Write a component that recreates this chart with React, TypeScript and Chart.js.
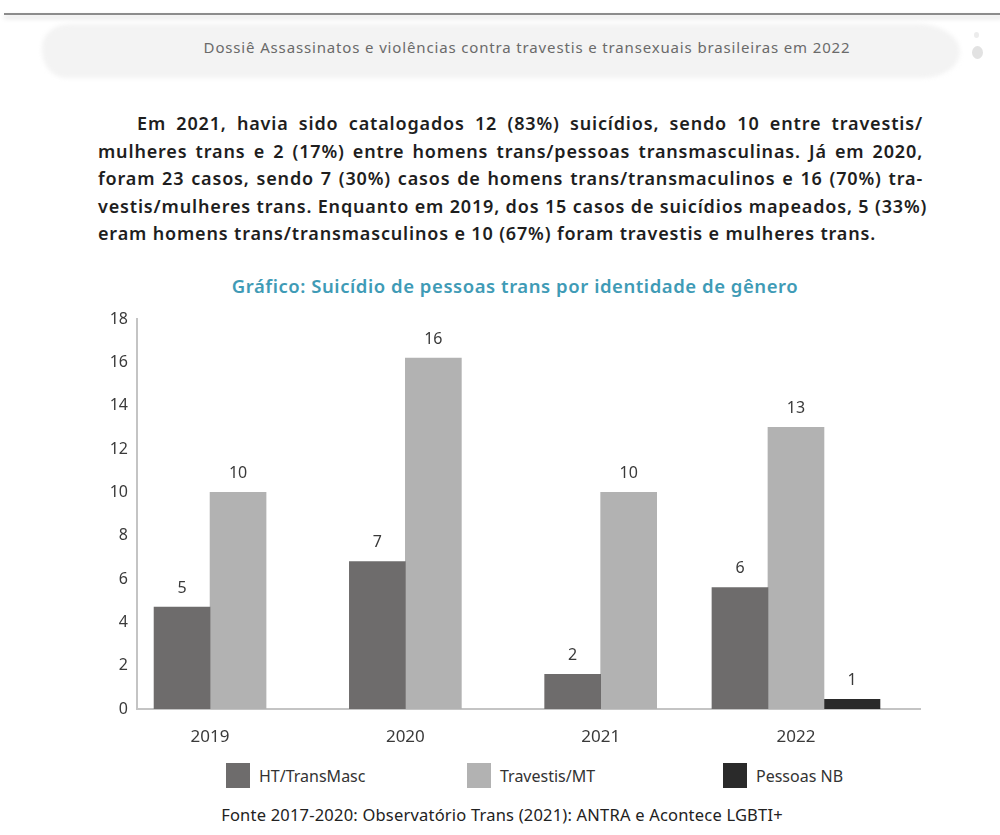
import React, { useEffect, useRef } from "react";
import { Chart, registerables } from "chart.js";

Chart.register(...registerables);

// ---------- data ----------
const categories = ["2019", "2020", "2021", "2022"];
const seriesNames = ["HT/TransMasc", "Travestis/MT", "Pessoas NB"];
const seriesColors = ["#6e6c6c", "#b2b2b2", "#2a2a2a"];
// bar heights as drawn in the picture
const htValues = [4.7, 6.8, 1.6, 5.6];
const travValues = [10, 16.2, 10, 13];
const nbValues: (number | null)[] = [null, null, null, 0.45];
// value labels printed above the bars
const htLabels = ["5", "7", "2", "6"];
const travLabels = ["10", "16", "10", "13"];
const nbLabels: (string | null)[] = [null, null, null, "1"];

const headerText =
  "Dossiê Assassinatos e violências contra travestis e transexuais brasileiras em 2022";
const paragraphLines = [
  "Em 2021, havia sido catalogados 12 (83%) suicídios, sendo 10 entre travestis/",
  "mulheres trans e 2 (17%) entre homens trans/pessoas transmasculinas. Já em 2020,",
  "foram 23 casos, sendo 7 (30%) casos de homens trans/transmaculinos e 16 (70%) tra-",
  "vestis/mulheres trans. Enquanto em 2019, dos 15 casos de suicídios mapeados, 5 (33%)",
  "eram homens trans/transmasculinos e 10 (67%) foram travestis e mulheres trans.",
];
const chartTitle = "Gráfico: Suicídio de pessoas trans por identidade de gênero";
const sourceText = "Fonte 2017-2020: Observatório Trans (2021): ANTRA e Acontece LGBTI+";

const FONT = "'Noto Sans', 'DejaVu Sans', sans-serif";

const labelSets = [htLabels, travLabels, nbLabels];

const barLabelPlugin = {
  id: "barLabels",
  afterDatasetsDraw(chart: any) {
    const ctx = chart.ctx;
    chart.data.datasets.forEach((_ds: any, di: number) => {
      const meta = chart.getDatasetMeta(di);
      const labels = labelSets[di];
      meta.data.forEach((el: any, i: number) => {
        const lab = labels[i];
        if (lab == null) return;
        ctx.save();
        ctx.font = `400 16px ${FONT}`;
        ctx.fillStyle = "#3a3a3a";
        ctx.textAlign = "center";
        ctx.textBaseline = "middle";
        ctx.fillText(lab, el.x, el.y - 19);
        ctx.restore();
      });
    });
  },
};

function BarChart() {
  const ref = useRef<HTMLCanvasElement | null>(null);
  useEffect(() => {
    if (!ref.current) return;
    const toPoints = (vals: (number | null)[]) =>
      vals.map((v, i) => ({ x: i, y: v }));
    const chart = new Chart(ref.current, {
      type: "bar",
      data: {
        datasets: [htValues, travValues, nbValues].map((vals, i) => ({
          label: seriesNames[i],
          data: toPoints(vals as any) as any,
          backgroundColor: seriesColors[i],
          borderWidth: 0,
          barThickness: 56,
        })),
      },
      options: {
        animation: false,
        responsive: false,
        maintainAspectRatio: false,
        skipNull: true,
        layout: { padding: { left: 0, right: 80, top: 59, bottom: 0 } },
        plugins: {
          legend: { display: false },
          tooltip: { enabled: false },
          title: { display: false },
        },
        scales: {
          x: {
            type: "linear",
            offset: false,
            min: -0.374,
            max: 3.635,
            grid: { display: false, drawTicks: false, offset: false },
            border: { display: true, color: "#c4c4c4", width: 2 },
            ticks: {
              stepSize: 1,
              includeBounds: false,
              autoSkip: false,
              maxRotation: 0,
              padding: 18,
              color: "#3a3a3a",
              font: { family: FONT, size: 17 },
              callback: (v: any) => categories[v as number] ?? "",
            },
            afterFit: (s: any) => {
              s.height = 51;
              s.paddingLeft = 0;
              s.paddingRight = 0;
            },
          },
          y: {
            min: 0,
            max: 18,
            grid: { display: false, drawTicks: false },
            border: { display: true, color: "#c4c4c4", width: 2 },
            ticks: {
              stepSize: 2,
              padding: 9,
              color: "#3a3a3a",
              font: { family: FONT, size: 16 },
            },
            afterFit: (s: any) => {
              s.width = 137;
              s.paddingTop = 0;
              s.paddingBottom = 0;
            },
          },
        },
      } as any,
      plugins: [barLabelPlugin],
    });
    return () => chart.destroy();
  }, []);
  return (
    <canvas
      ref={ref}
      width={1000}
      height={500}
      style={{ position: "absolute", left: 0, top: 260, width: 1000, height: 500, display: "block" }}
    />
  );
}

export default function App() {
  const legendLefts = [226, 467, 723];
  return (
    <div
      style={{
        position: "absolute",
        left: 0,
        top: 0,
        width: 1000,
        height: 835,
        background: "#ffffff",
        overflow: "hidden",
        fontFamily: FONT,
      }}
    >
      {/* top rule */}
      <div
        style={{
          position: "absolute",
          left: 4,
          top: 13,
          width: 1000,
          height: 2,
          background: "#8c8c8c",
          boxShadow: "0 3px 5px rgba(0,0,0,0.18)",
        }}
      />
      {/* header brush band */}
      <div
        style={{
          position: "absolute",
          left: 42,
          top: 24,
          width: 918,
          height: 54,
          background: "#f3f3f3",
          borderRadius: "30px 45px 40px 25px / 25px 30px 28px 30px",
          filter: "blur(2px)",
        }}
      />
      <div style={{ position: "absolute", left: 972, top: 46, width: 11, height: 13, borderRadius: "50%", background: "#e2e2e2" }} />
      <div style={{ position: "absolute", left: 974, top: 32, width: 5, height: 6, borderRadius: "50%", background: "#ececec" }} />
      <div
        style={{
          position: "absolute",
          left: 0,
          top: 38,
          width: 1054,
          textAlign: "center",
          fontSize: 15,
          letterSpacing: "0.85px",
          color: "#6a6a6a",
          lineHeight: "18px",
          whiteSpace: "nowrap",
        }}
      >
        {headerText}
      </div>
      {/* paragraph */}
      <div
        style={{
          position: "absolute",
          left: 98,
          top: 110,
          width: 825,
          fontSize: 18,
          fontWeight: 600,
          letterSpacing: "0.84px",
          color: "#1e1e1e",
          lineHeight: "27.6px",
        }}
      >
        {paragraphLines.map((line, i) => (
          <div
            key={i}
            style={{
              whiteSpace: "nowrap",
              textAlign: "justify",
              textAlignLast: i < paragraphLines.length - 1 ? "justify" : "left",
              paddingLeft: i === 0 ? 39 : 0,
            }}
          >
            {line}
          </div>
        ))}
      </div>
      {/* chart title */}
      <div
        style={{
          position: "absolute",
          left: 0,
          top: 274,
          width: 1030,
          textAlign: "center",
          fontSize: 18.5,
          fontWeight: 600,
          letterSpacing: "0.55px",
          color: "#3f9bb6",
          lineHeight: "24px",
          whiteSpace: "nowrap",
        }}
      >
        {chartTitle}
      </div>
      <BarChart />
      {/* legend */}
      {seriesNames.map((name, i) => (
        <div
          key={name}
          style={{
            position: "absolute",
            left: legendLefts[i],
            top: 763,
            height: 25,
            display: "flex",
            alignItems: "center",
            whiteSpace: "nowrap",
          }}
        >
          <div style={{ width: 24, height: 25, background: seriesColors[i] }} />
          <span style={{ marginLeft: 9, fontSize: 16, color: "#333333" }}>{name}</span>
        </div>
      ))}
      <div
        style={{
          position: "absolute",
          left: 0,
          top: 804,
          width: 1004,
          textAlign: "center",
          fontSize: 16.5,
          letterSpacing: "0.2px",
          color: "#222222",
          lineHeight: "22px",
          whiteSpace: "nowrap",
        }}
      >
        {sourceText}
      </div>
    </div>
  );
}
